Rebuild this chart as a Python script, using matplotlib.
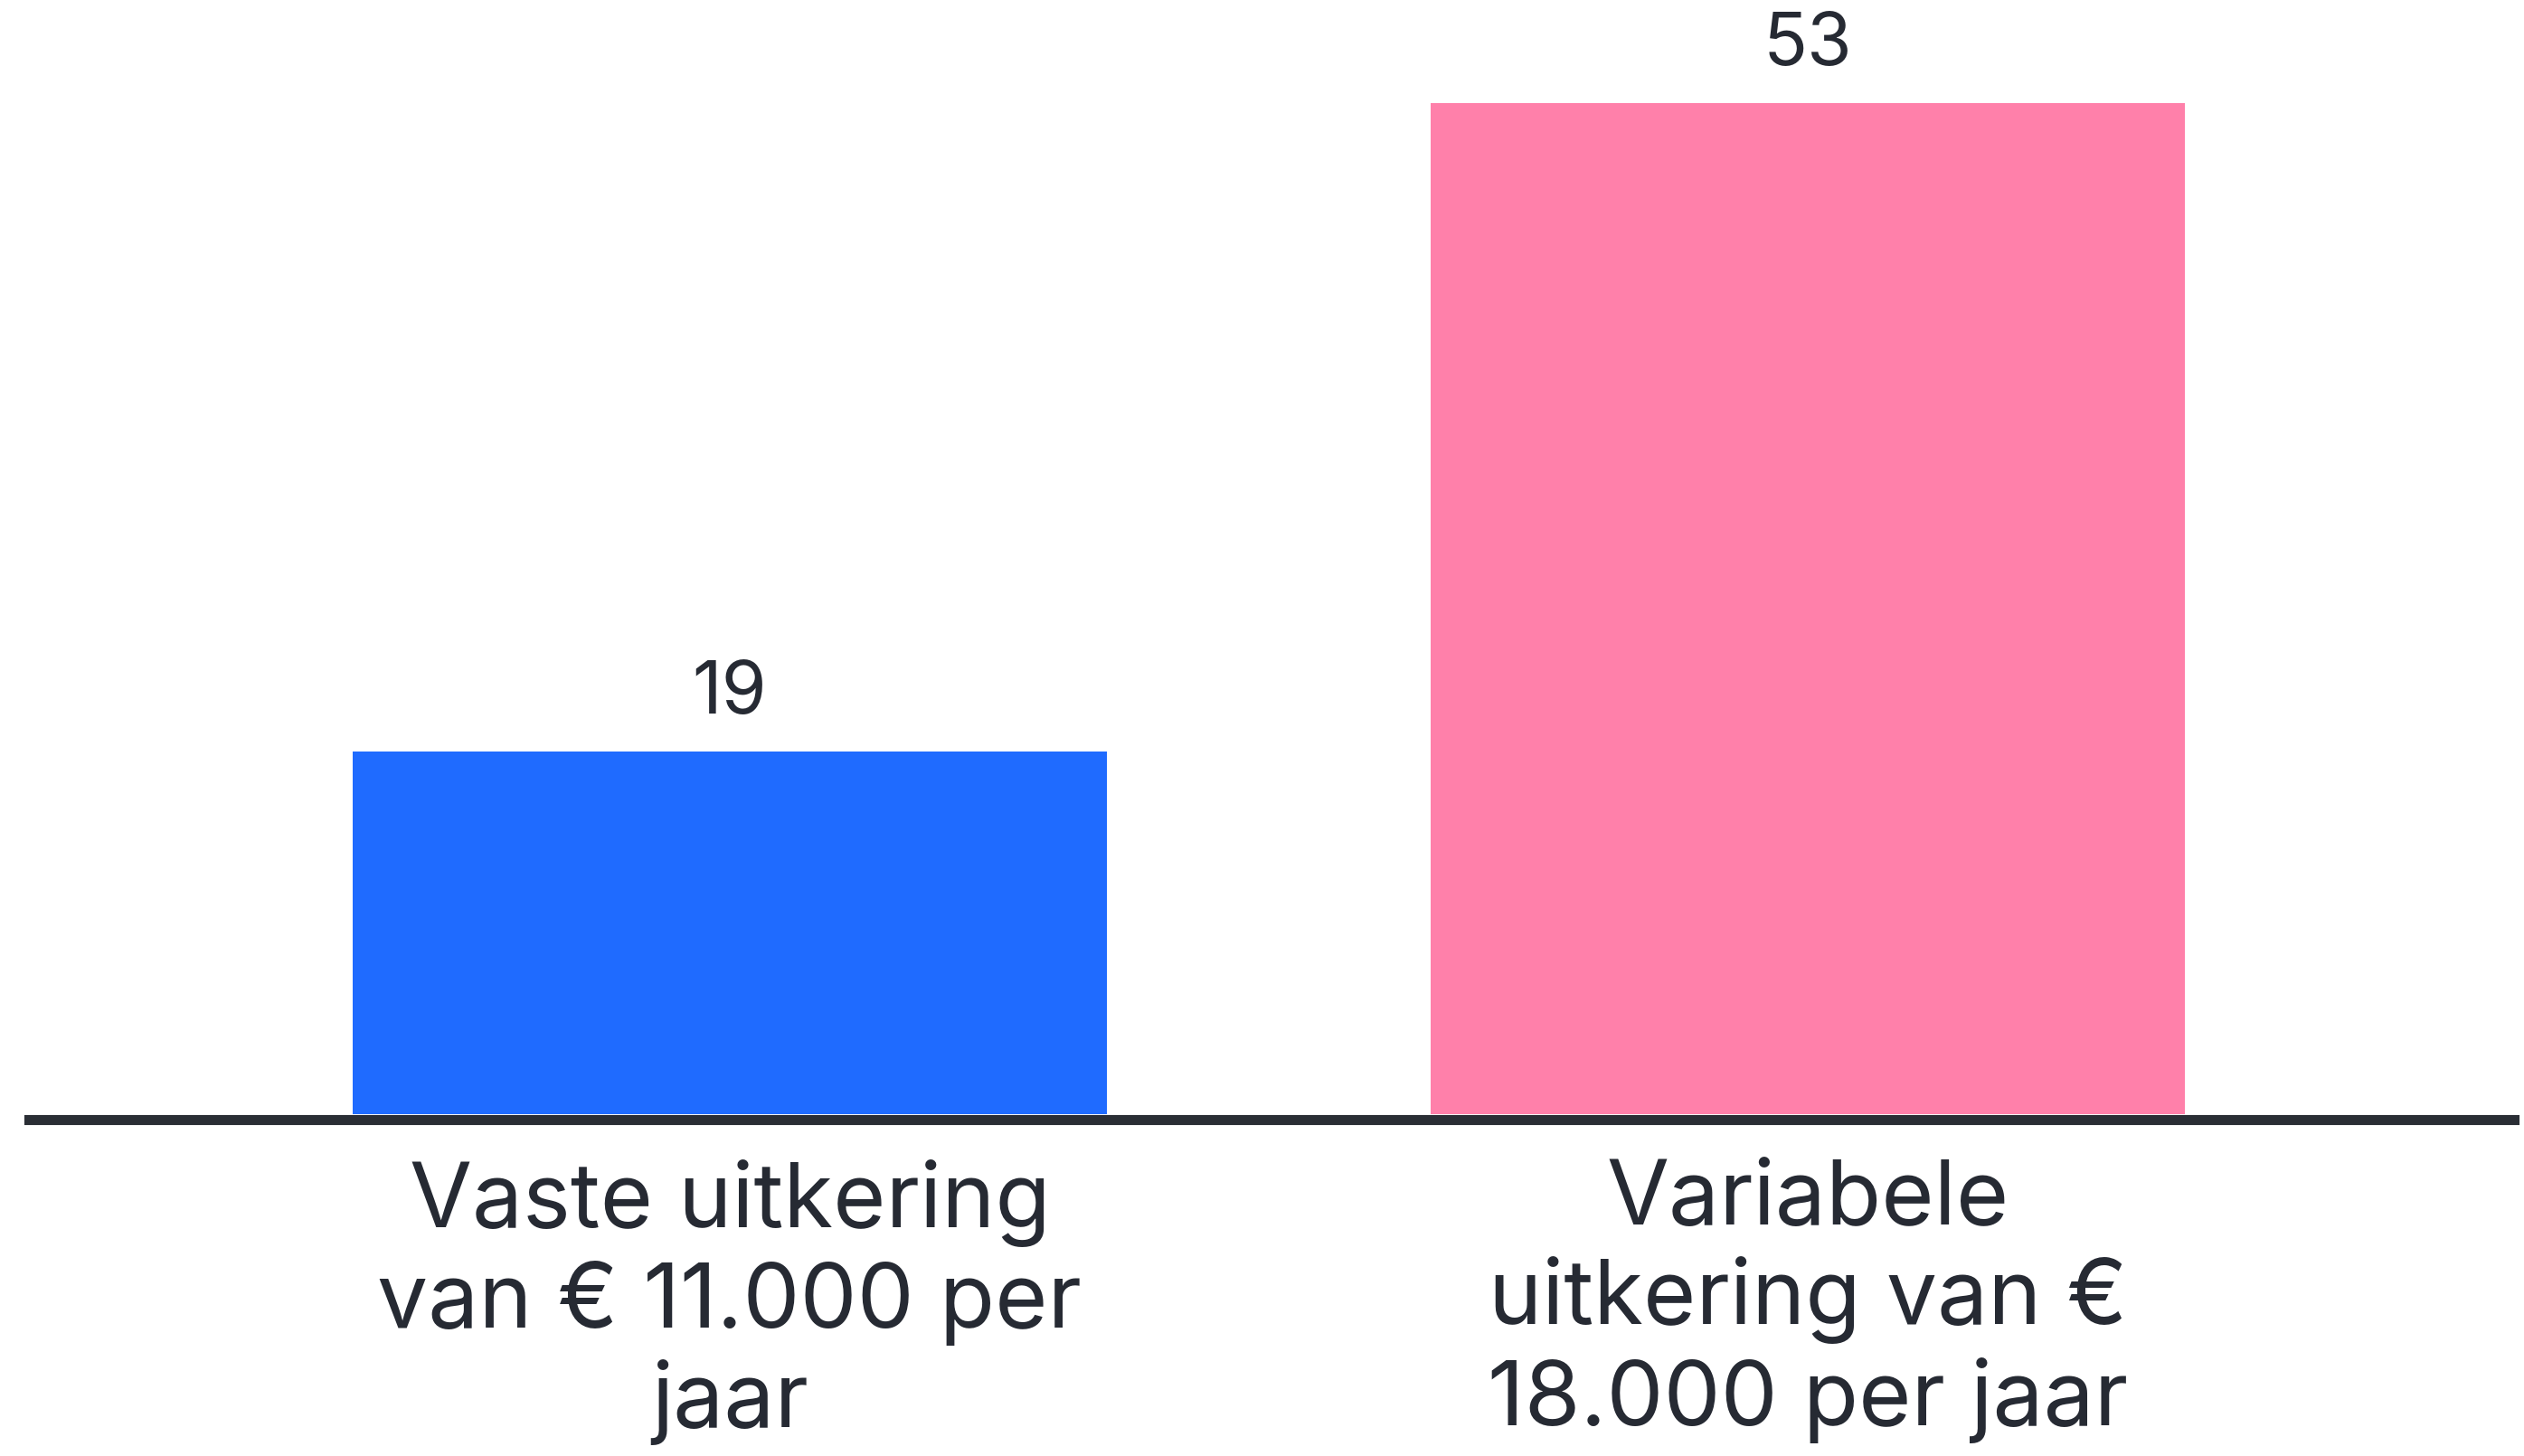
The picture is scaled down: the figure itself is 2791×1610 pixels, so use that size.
import matplotlib.pyplot as plt

# data
categories = ['Vaste uitkering\nvan € 11.000 per\njaar',
              'Variabele\nuitkering van €\n18.000 per jaar']
values = [19, 53]
colors = ['#1F6BFF', '#FF80AA']

plt.rcParams['font.family'] = ['Inter', 'DejaVu Sans']
textcol = '#262A33'

fig = plt.figure(figsize=(27.91, 16.10), dpi=100)
ax = fig.add_axes([0.0115, 0.2348, 0.9845, 0.7205])

x = range(len(values))
bars = ax.bar(x, values, width=0.7, color=colors, zorder=1)
ax.bar_label(bars, labels=[str(v) for v in values], padding=18,
             fontsize=58, color=textcol)

ax.set_xlim(-0.65, 1.655)
ax.set_ylim(0, 55)
ax.tick_params(axis='x', length=0, pad=32, labelsize=72, labelcolor=textcol)
ax.set_xticks(list(x))
ax.set_xticklabels(categories, linespacing=1.05)
ax.set_yticks([])

for s in ['top', 'right', 'left']:
    ax.spines[s].set_visible(False)
ax.spines['bottom'].set_linewidth(8)
ax.spines['bottom'].set_color('#2A2E35')
ax.spines['bottom'].set_position(('outward', 4))
ax.spines['bottom'].set_zorder(3)

plt.savefig('out.png', dpi=100)
